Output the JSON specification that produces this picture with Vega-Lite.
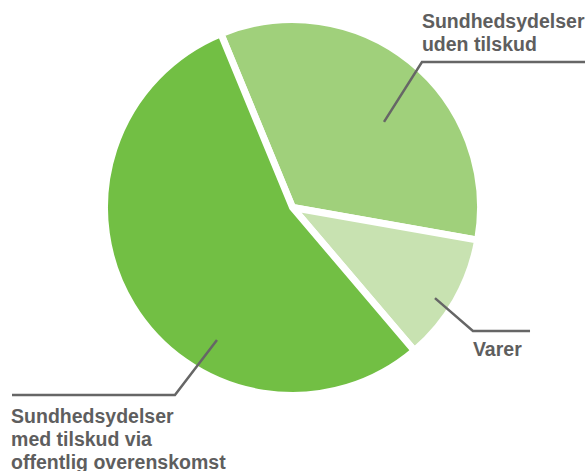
{
  "$schema": "https://vega.github.io/schema/vega-lite/v6.json",
  "width": 585,
  "height": 415,
  "autosize": {"type": "none"},
  "padding": {"top": 0, "left": 0, "right": 0, "bottom": 56},
  "background": "white",
  "config": {"view": {"stroke": null}},
  "datasets": {
    "slices": [
      {"kategori": "Sundhedsydelser uden tilskud", "andel": 34, "orden": 1},
      {"kategori": "Varer", "andel": 11, "orden": 2},
      {"kategori": "Sundhedsydelser med tilskud via offentlig overenskomst", "andel": 55, "orden": 3}
    ],
    "leaders": [
      {"g": "uden", "seq": 1, "x": 49.2, "y": 46.0},
      {"g": "uden", "seq": 2, "x": 69.6, "y": 78.2},
      {"g": "uden", "seq": 3, "x": 157.3, "y": 78.2},
      {"g": "varer", "seq": 1, "x": 76.6, "y": -48.7},
      {"g": "varer", "seq": 2, "x": 97.0, "y": -66.4},
      {"g": "varer", "seq": 3, "x": 127.7, "y": -66.4},
      {"g": "med", "seq": 1, "x": -40.6, "y": -71.2},
      {"g": "med", "seq": 2, "x": -63.2, "y": -100.8},
      {"g": "med", "seq": 3, "x": -150.8, "y": -100.8}
    ],
    "labels": [
      {"label": "Sundhedsydelser\nuden tilskud", "x": 69.6, "y": 96.5},
      {"label": "Varer", "x": 97.0, "y": -79.8},
      {"label": "Sundhedsydelser\nmed tilskud via\noffentlig overenskomst", "x": -151.3, "y": -115.9}
    ]
  },
  "layer": [
    {
      "data": {"name": "slices"},
      "mark": {"type": "arc", "outerRadius": 188, "stroke": "white", "strokeWidth": 7},
      "encoding": {
        "theta": {"field": "andel", "type": "quantitative", "stack": true, "scale": {"range": [-0.391, 5.892]}},
        "order": {"field": "orden", "type": "quantitative"},
        "color": {
          "field": "kategori", "type": "nominal", "legend": null,
          "scale": {
            "domain": ["Sundhedsydelser uden tilskud", "Varer", "Sundhedsydelser med tilskud via offentlig overenskomst"],
            "range": ["#a0d07b", "#c8e2b1", "#72bf44"]
          }
        }
      }
    },
    {
      "data": {"name": "leaders"},
      "mark": {"type": "line", "color": "#666666", "strokeWidth": 2.5, "strokeCap": "butt"},
      "encoding": {
        "x": {"field": "x", "type": "quantitative", "axis": null, "scale": {"domain": [-157.26, 157.26], "nice": false, "zero": false}},
        "y": {"field": "y", "type": "quantitative", "axis": null, "scale": {"domain": [-111.56, 111.56], "nice": false, "zero": false}},
        "detail": {"field": "g"},
        "order": {"field": "seq", "type": "quantitative"}
      }
    },
    {
      "data": {"name": "labels"},
      "mark": {"type": "text", "align": "left", "baseline": "alphabetic", "lineBreak": "\n", "lineHeight": 23, "font": "Liberation Sans", "fontWeight": "bold", "fontSize": 19.5, "color": "#5e5e5e"},
      "encoding": {
        "x": {"field": "x", "type": "quantitative", "axis": null, "scale": {"domain": [-157.26, 157.26], "nice": false, "zero": false}},
        "y": {"field": "y", "type": "quantitative", "axis": null, "scale": {"domain": [-111.56, 111.56], "nice": false, "zero": false}},
        "text": {"field": "label"}
      }
    }
  ]
}
